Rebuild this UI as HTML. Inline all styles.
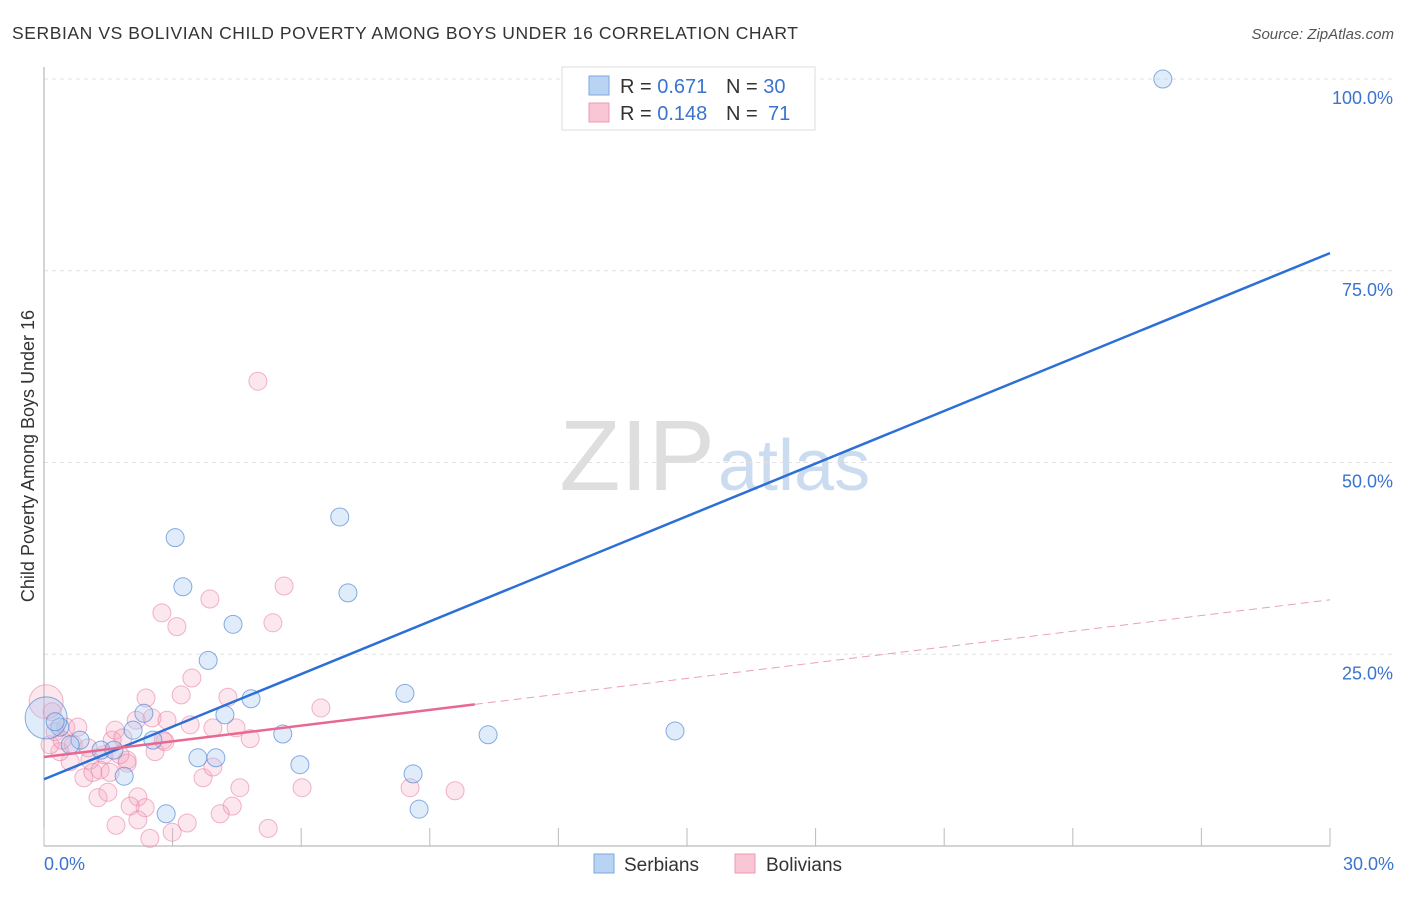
<!DOCTYPE html>
<html><head><meta charset="utf-8"><style>
body{margin:0;background:#fff;font-family:"Liberation Sans",sans-serif;}
svg text{font-family:"Liberation Sans",sans-serif;}
</style></head><body>
<svg width="1406" height="892" viewBox="0 0 1406 892" xmlns="http://www.w3.org/2000/svg">
<text x="12" y="39" font-size="17.5" fill="#333" textLength="786">SERBIAN VS BOLIVIAN CHILD POVERTY AMONG BOYS UNDER 16 CORRELATION CHART</text>
<text x="1394" y="39" font-size="15" fill="#555" font-style="italic" text-anchor="end">Source: ZipAtlas.com</text>
<text x="715" y="490" font-size="100" fill="#dedede" text-anchor="end" font-family="Liberation Serif">ZIP</text>
<text x="718" y="490" font-size="72" fill="#ccdcf0">atlas</text>
<g id="grid"></g>
<g id="axes"></g>
<g id="points"></g>
<g id="lines"></g>
<text x="34" y="456" font-size="18" fill="#333" text-anchor="middle" transform="rotate(-90 34 456)">Child Poverty Among Boys Under 16</text>
<text x="44" y="870" font-size="18" fill="#3b73d0">0.0%</text>
<text x="1394" y="870" font-size="18" fill="#3b73d0" text-anchor="end">30.0%</text>
<g>
<rect x="562" y="67" width="253" height="63" fill="#fff" stroke="#ddd"/>
<rect x="589" y="76" width="20" height="19" fill="#b9d3f3" stroke="#7ea7e0"/>
<rect x="589" y="103" width="20" height="19" fill="#f9c6d6" stroke="#ee98b4"/>
<text x="620" y="93" font-size="20" fill="#333">R = <tspan fill="#3b73d0">0.671</tspan><tspan x="726">N = </tspan><tspan fill="#3b73d0">30</tspan></text>
<text x="620" y="120" font-size="20" fill="#333">R = <tspan fill="#3b73d0">0.148</tspan><tspan x="726">N = </tspan><tspan x="768" fill="#3b73d0">71</tspan></text>
</g>
<g>
<rect x="594" y="854" width="20" height="19" fill="#b9d3f3" stroke="#7ea7e0"/>
<text x="624" y="871" font-size="19" fill="#333">Serbians</text>
<rect x="735" y="854" width="20" height="19" fill="#f9c6d6" stroke="#ee98b4"/>
<text x="766" y="871" font-size="19" fill="#333">Bolivians</text>
</g>
</svg>
<script>
const yTicks=[25,50,75,100];
const yTickLabels=["25.0%","50.0%","75.0%","100.0%"];
const xTicks=[0,3,6,9,12,15,18,21,24,27,30];
const serbX=[26.10,3.06,3.24,6.90,7.09,4.41,3.83,4.83,4.22,2.33,2.08,2.54,5.57,3.59,4.01,5.97,8.42,10.36,14.72,8.61,8.75,2.85,1.87,0.84,1.33,1.63,0.37,0.05,0.26,0.61];
const serbY=[100.0,40.2,33.8,42.9,33.0,28.9,24.2,19.2,17.1,17.3,15.1,13.8,14.6,11.5,11.5,10.6,19.9,14.5,15.0,9.4,4.8,4.2,9.1,13.8,12.5,12.5,15.5,16.7,16.2,13.2];
const bolX=[4.99,5.60,3.87,2.75,3.10,5.34,3.45,3.20,2.38,4.29,6.46,2.52,2.87,3.41,4.48,3.94,4.81,2.78,2.59,1.94,3.71,3.94,4.57,6.02,8.54,9.59,1.26,1.49,2.19,2.36,2.01,4.39,4.11,1.68,2.19,3.34,5.23,2.99,2.47,0.93,1.14,1.07,0.61,0.37,0.14,0.05,0.51,0.79,0.68,1.03,1.40,1.59,1.77,1.31,1.54,2.15,1.66,0.26,0.42,0.19,1.84,1.94,2.82];
const bolY=[60.6,33.9,32.2,30.4,28.6,29.1,21.9,19.7,19.3,19.4,18.0,16.7,16.4,15.8,15.4,15.4,14.0,13.8,12.3,11.2,8.9,10.3,7.6,7.6,7.6,7.2,6.3,7.0,6.4,5.0,5.2,5.2,4.2,2.7,3.4,3.0,2.3,1.8,1.0,8.9,9.6,11.2,11.0,12.3,13.2,18.8,15.5,15.5,13.2,12.8,11.9,13.8,11.9,9.9,9.6,16.4,15.1,14.9,13.8,17.5,14.1,10.8,13.6];
const serbFit=[8.7,77.3];
const bolFit=[11.6,32.1];
const bolSolidEnd=10.05;

const NS="http://www.w3.org/2000/svg";
const X=v=>44+v*(1286/30);
const Y=v=>846-v*(767/100);
function mk(tag,attrs,parent){const e=document.createElementNS(NS,tag);for(const k in attrs)e.setAttribute(k,attrs[k]);document.getElementById(parent).appendChild(e);return e;}
yTicks.forEach((t,i)=>{
 const l=mk('line',{x1:44,x2:1395,y1:Y(t),y2:Y(t),stroke:'#e2e2e2','stroke-dasharray':'4,4'},'grid');
 
 
 const tx=mk('text',{x:1393,y:Y(t)+25,'font-size':18,fill:'#3b73d0','text-anchor':'end'},'grid');
 tx.textContent=yTickLabels[i];
 
 
});
const ya=mk('line',{x1:44,x2:44,y1:67,y2:846,stroke:'#aaa'},'axes');


const xa=mk('line',{x1:44,x2:1330,y1:846,y2:846,stroke:'#aaa'},'axes');


xTicks.forEach(t=>{
 const l=mk('line',{x1:X(t),x2:X(t),y1:828,y2:846,stroke:'#bbb'},'axes');
 
 
});
bolX.forEach((v,i)=>{
 const r=(i===45)?17:9;
 const c=mk('circle',{cx:X(v),cy:Y(bolY[i]),r:r,fill:'rgba(244,170,195,0.28)',stroke:'rgba(232,120,158,0.55)','stroke-width':1},'points');
 
 
});
serbX.forEach((v,i)=>{
 const r=(i===27)?21:9;
 const c=mk('circle',{cx:X(v),cy:Y(serbY[i]),r:r,fill:'rgba(170,200,240,0.35)',stroke:'rgba(70,130,210,0.65)','stroke-width':1},'points');
 
 
});
const bl=mk('line',{x1:X(0),y1:Y(serbFit[0]),x2:X(30),y2:Y(serbFit[1]),stroke:'#2d6fd6','stroke-width':2.5},'lines');


const bm=bolFit[0]+(bolFit[1]-bolFit[0])*bolSolidEnd/30;
const pl=mk('line',{x1:X(0),y1:Y(bolFit[0]),x2:X(bolSolidEnd),y2:Y(bm),stroke:'#e8688f','stroke-width':2.5},'lines');


const pd=mk('line',{x1:X(bolSolidEnd),y1:Y(bm),x2:X(30),y2:Y(bolFit[1]),stroke:'#eaa0b8','stroke-width':1,'stroke-dasharray':'8,5'},'lines');


</script>
</body></html>
